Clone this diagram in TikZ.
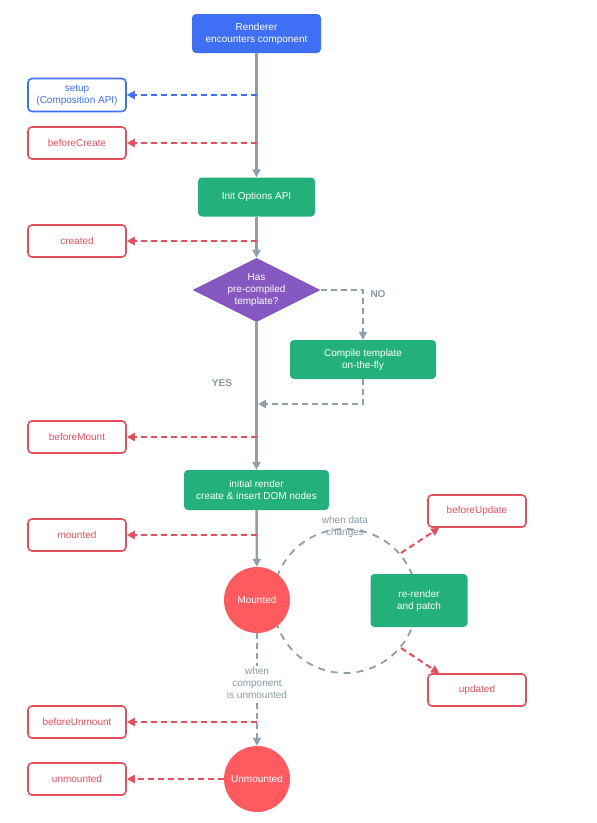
\documentclass[tikz,border=0pt]{standalone}
\usepackage{fontspec}
\setmainfont{Liberation Sans}
\usetikzlibrary{arrows.meta,shapes.geometric,calc}
\definecolor{vblue}{HTML}{3F6FF4}
\definecolor{vgreen}{HTML}{24B07A}
\definecolor{vpurple}{HTML}{8558C2}
\definecolor{vred}{HTML}{E2505C}
\definecolor{vcirc}{HTML}{FF5A5F}
\definecolor{vgray}{HTML}{8FA0A8}
\definecolor{vlabel}{HTML}{8A9AA3}
\tikzset{
  every node/.style={font=\fontsize{10}{12}\selectfont, align=center},
  procbox/.style={rectangle, rounded corners=4pt, fill=vgreen, text=white, inner sep=0pt},
  hookbox/.style={rectangle, rounded corners=4pt, draw=vred, line width=1.6pt, text=vred, fill=white, minimum width=98pt, minimum height=32pt, inner sep=0pt},
  setupbox/.style={hookbox, draw=vblue, text=vblue},
  statecirc/.style={circle, fill=vcirc, text=white, minimum size=66pt, inner sep=0pt},
  mainline/.style={draw=vgray, line width=2.4pt, -{Triangle[length=8pt,width=8pt]}},
  grayflow/.style={draw=vgray, line width=2pt, dash pattern=on 6pt off 4pt, -{Triangle[length=8pt,width=8pt]}},
  hookarrow/.style={draw=vred, line width=2pt, dash pattern=on 6pt off 4pt, -{Triangle[length=8pt,width=8pt]}},
  setuparrow/.style={hookarrow, draw=vblue},
  tag/.style={text=vlabel},
}
\begin{document}
\begin{tikzpicture}[x=1pt,y=-1pt]
\useasboundingbox (0,0) rectangle (597,823);
\fill[white] (0,0) rectangle (597,823);

% loop circle (behind)
\draw[vgray, line width=1.8pt, dash pattern=on 7pt off 6pt] (345,601) circle (72pt);

% main nodes
\node[procbox, fill=vblue, minimum width=129pt, minimum height=39pt] (renderer) at (256.5,33.5) {Renderer\\encounters component};
\node[procbox, minimum width=117pt, minimum height=39pt] (init) at (256.5,197) {Init Options API};
\node[diamond, fill=vpurple, text=white, minimum width=128pt, minimum height=64pt, inner sep=0pt, aspect=2] (dia) at (256.5,290) {Has\\pre-compiled\\template?};
\node[procbox, minimum width=146pt, minimum height=39pt] (compile) at (363,359.5) {Compile template\\on-the-fly};
\node[procbox, minimum width=145pt, minimum height=40pt] (irender) at (256.5,490) {initial render\\create \& insert DOM nodes};
\node[statecirc] (mounted) at (257,600) {Mounted};
\node[procbox, minimum width=97pt, minimum height=53pt] (rerender) at (419,600.5) {re-render\\and patch};
\node[statecirc] (unmounted) at (257,779) {Unmounted};

% hook boxes
\node[setupbox, minimum height=33pt] (setup) at (77,95) {setup\\(Composition API)};
\node[hookbox] (bcreate) at (77,143) {beforeCreate};
\node[hookbox] (created) at (77,241) {created};
\node[hookbox] (bmount) at (77,437) {beforeMount};
\node[hookbox] (mountedh) at (77,535) {mounted};
\node[hookbox] (bupdate) at (477,511) {beforeUpdate};
\node[hookbox] (updated) at (477,690) {updated};
\node[hookbox] (bunmount) at (77,722) {beforeUnmount};
\node[hookbox] (unmountedh) at (77,779) {unmounted};

% labels
\node[tag, font=\fontsize{10}{12}\selectfont\bfseries] (no) at (378,294.5) {NO};
\node[tag, font=\fontsize{10}{12}\selectfont\bfseries] (yes) at (222,383) {YES};
\node[tag, inner sep=0pt] (wdata) at (345,527) {when data\\changes};

% coordinates on main line
\coordinate (c1) at (257,95);
\coordinate (c2) at (257,143);
\coordinate (c3) at (257,241);
\coordinate (c4) at (257,437);
\coordinate (c5) at (257,535);
\coordinate (c6) at (257,722);
\coordinate (join) at (258,404);
\coordinate (up1) at (401,553);
\coordinate (up2) at (401,648);

% main flow
\draw[mainline] (renderer) -- (init);
\draw[mainline] (init) -- (dia);
\draw[mainline] (dia) -- (irender);
\draw[mainline] (irender) -- (mounted);

% compile branch
\draw[grayflow] (dia.east) -| (compile.north);
\draw[grayflow] (compile.south) |- (join);

% unmount path
\draw[grayflow] (mounted) -- (unmounted);
\node[tag, fill=white, inner sep=1pt] (wcomp) at (257,683) {when\\component\\is unmounted};

% hook arrows
\draw[setuparrow] (c1) -- (setup);
\draw[hookarrow] (c2) -- (bcreate);
\draw[hookarrow] (c3) -- (created);
\draw[hookarrow] (c4) -- (bmount);
\draw[hookarrow] (c5) -- (mountedh);
\draw[hookarrow] (c6) -- (bunmount);
\draw[hookarrow] (unmounted) -- (unmountedh);
\draw[hookarrow] (up1) -- ($(bupdate.south west)+(12,0)$);
\draw[hookarrow] (up2) -- ($(updated.north west)+(12,0)$);
\end{tikzpicture}
\end{document}
